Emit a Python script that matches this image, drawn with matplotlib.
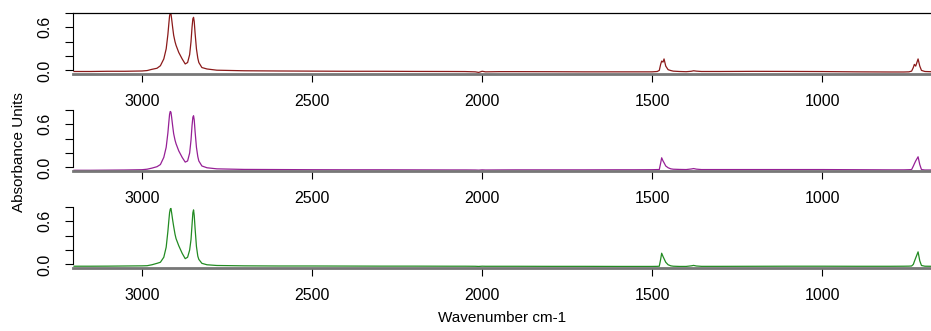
import matplotlib
matplotlib.use("Agg")
import matplotlib.pyplot as plt

plt.rcParams['font.family'] = ['Liberation Sans', 'DejaVu Sans']

# Wavenumber grid (cm-1) shared by all three spectra
wavenumber = [3200, 3150, 3100, 3050, 3000, 2985, 2971, 2956,
              2946, 2936, 2929, 2924, 2921, 2919, 2917, 2915, 2913, 2910,
              2907, 2903, 2900, 2892, 2882, 2873, 2866, 2860, 2856, 2853,
              2850.5, 2848.5, 2846.5, 2844, 2840, 2836, 2833, 2824,
              2809, 2780, 2700, 2600, 2500, 2400, 2300, 2200, 2100, 2050, 2020,
              2010, 2000, 1990, 1950, 1900, 1800, 1700, 1600, 1550, 1500,
              1485, 1479, 1475, 1472, 1468, 1465, 1460, 1453, 1445, 1438,
              1420, 1400, 1385, 1378, 1370, 1355, 1300, 1200, 1100, 1000,
              900, 800, 760, 745, 737, 732, 729, 725, 718, 713,
              708, 698, 680]

absorbance_a = [-0.015, -0.015, -0.012, -0.012, -0.008, -0.002, 0.015, 0.03,
                0.065, 0.16, 0.30, 0.50, 0.66, 0.76, 0.80, 0.79, 0.72, 0.60,
                0.49, 0.40, 0.35, 0.25, 0.16, 0.09, 0.11, 0.22, 0.40, 0.60,
                0.72, 0.74, 0.68, 0.52, 0.30, 0.17, 0.11, 0.04,
                0.02, 0.003, -0.005, -0.008, -0.01, -0.012, -0.012, -0.014, -0.015, -0.016, -0.02,
                -0.028, -0.012, -0.02, -0.017, -0.017, -0.018, -0.02, -0.02, -0.02, -0.02,
                -0.015, 0.0, 0.084, 0.13, 0.116, 0.16, 0.06, 0.01, -0.002, -0.01,
                -0.015, -0.018, -0.012, -0.005, -0.01, -0.015, -0.015, -0.013, -0.014, -0.016,
                -0.02, -0.022, -0.022, -0.02, -0.01, 0.04, 0.084, 0.06, 0.16, 0.06,
                0.0, -0.015, -0.018]

absorbance_b = [-0.04, -0.04, -0.038, -0.036, -0.032, -0.025, -0.01, 0.01,
                0.04, 0.14, 0.28, 0.48, 0.64, 0.74, 0.78, 0.77, 0.70, 0.58,
                0.47, 0.38, 0.33, 0.23, 0.14, 0.074, 0.09, 0.20, 0.38, 0.58,
                0.70, 0.72, 0.66, 0.50, 0.28, 0.15, 0.09, 0.02,
                -0.005, -0.02, -0.028, -0.03, -0.032, -0.033, -0.033, -0.034, -0.035, -0.035, -0.036,
                -0.038, -0.034, -0.036, -0.035, -0.034, -0.034, -0.034, -0.033, -0.033, -0.032,
                -0.03, -0.03, 0.06, 0.134, 0.09, 0.065, 0.02, -0.005, -0.02, -0.025,
                -0.028, -0.03, -0.022, -0.016, -0.024, -0.03, -0.03, -0.03, -0.03, -0.03,
                -0.032, -0.034, -0.034, -0.032, -0.03, 0.018, 0.05, 0.09, 0.148, 0.04,
                -0.03, -0.036, -0.036]

absorbance_c = [-0.025, -0.025, -0.024, -0.022, -0.02, -0.018, -0.005, 0.015,
                0.03, 0.10, 0.24, 0.46, 0.62, 0.72, 0.77, 0.78, 0.72, 0.62,
                0.53, 0.42, 0.36, 0.26, 0.155, 0.08, 0.10, 0.20, 0.345, 0.55,
                0.72, 0.76, 0.68, 0.50, 0.25, 0.115, 0.07, 0.015,
                -0.005, -0.015, -0.02, -0.022, -0.022, -0.023, -0.024, -0.024, -0.025, -0.025, -0.026,
                -0.028, -0.025, -0.026, -0.026, -0.026, -0.027, -0.027, -0.028, -0.028, -0.028,
                -0.027, -0.025, 0.07, 0.156, 0.11, 0.08, 0.03, -0.005, -0.02, -0.025,
                -0.028, -0.028, -0.02, -0.014, -0.022, -0.027, -0.027, -0.026, -0.025, -0.025,
                -0.026, -0.026, -0.025, -0.024, -0.022, 0.0, 0.04, 0.09, 0.175, 0.05,
                -0.015, -0.025, -0.026]

series = [absorbance_a, absorbance_b, absorbance_c]
colors = ['#8b1a1a', '#962096', '#228b22']

x_ticks = [3000, 2500, 2000, 1500, 1000]
y_ticks = [0.0, 0.2, 0.4, 0.6, 0.8]
y_ticklabels = ['0.0', '', '', '0.6', '']

W, H = 931, 331
fig = plt.figure(figsize=(W / 100, H / 100), dpi=100)

left_px = 73
panel_tops = [13, 110, 207]
panel_h = 61
ymin, ymax = -0.05, 0.80

for i, (vals, col) in enumerate(zip(series, colors)):
    top = panel_tops[i]
    ax = fig.add_axes([left_px / W, 1 - (top + panel_h) / H,
                       1 - left_px / W, panel_h / H])
    ax.plot(wavenumber, vals, color=col, lw=0.9, clip_on=True)
    ax.set_xlim(3203, 680)
    ax.set_ylim(ymin, ymax)

    ax.spines['right'].set_visible(False)
    ax.spines['top'].set_visible(i == 0)
    ax.spines['top'].set_linewidth(0.9)
    ax.spines['left'].set_bounds(0.0, 0.8)
    ax.spines['left'].set_linewidth(0.8)
    ax.spines['bottom'].set_color('#777777')
    ax.spines['bottom'].set_linewidth(2.0)

    ax.set_xticks(x_ticks)
    ax.set_xticklabels([str(t) for t in x_ticks])
    ax.set_yticks(y_ticks)
    ax.set_yticklabels(y_ticklabels, rotation=90, va='center')
    ax.tick_params(axis='x', length=6, width=0.8, pad=8.5, labelsize=11.5,
                   color='black')
    ax.tick_params(axis='y', length=6, width=0.8, pad=9, labelsize=11.5)
    ax.patch.set_alpha(0)

fig.text(19 / W, 1 - 152 / H, 'Absorbance Units', rotation=90,
         ha='center', va='center', fontsize=11)
fig.text((left_px + W) / 2 / W, 1 - 318 / H, 'Wavenumber cm-1',
         ha='center', va='center', fontsize=11)

fig.savefig('out.png', dpi=100)
